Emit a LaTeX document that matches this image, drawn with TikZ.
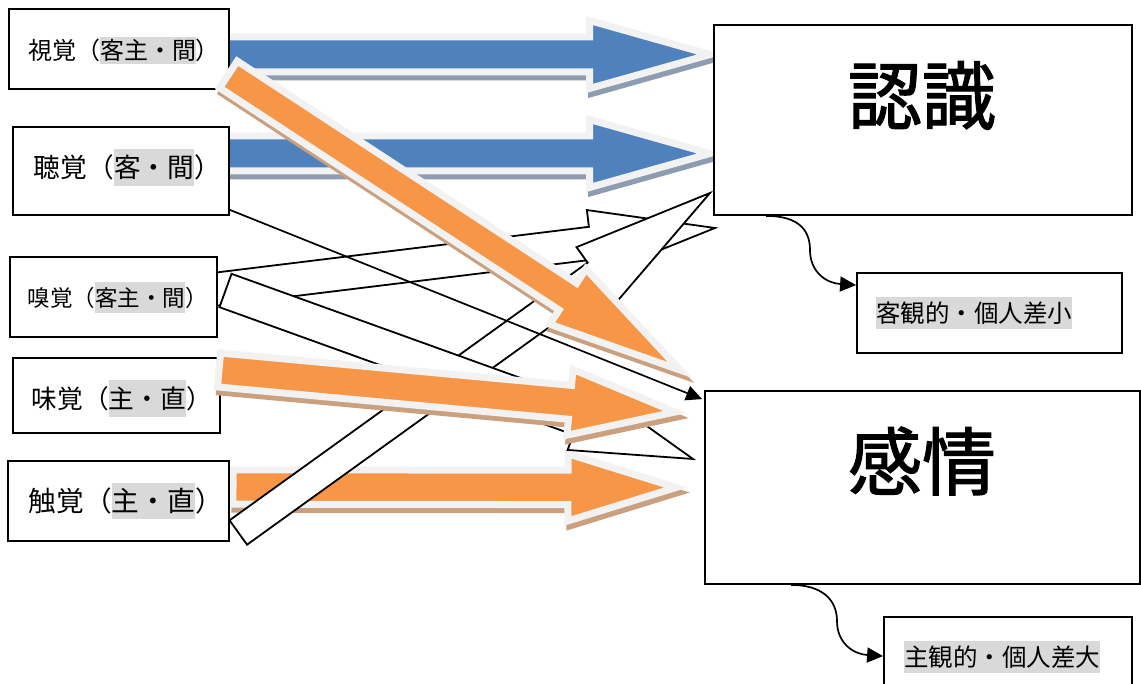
\documentclass[tikz,border=0pt]{standalone}
\usepackage{fontspec}
\setmainfont{Noto Sans CJK JP}
\newfontfamily\bigfont{Noto Sans CJK JP}[FakeBold=1.6]
\usetikzlibrary{calc,arrows.meta}
\definecolor{blueF}{HTML}{4F81BD}
\definecolor{orangeF}{HTML}{F79646}
\definecolor{outl}{HTML}{F2F2F2}
\definecolor{blueS}{HTML}{8E9CB1}
\definecolor{orangeS}{HTML}{CBA07F}
\definecolor{hlgray}{HTML}{D9D9D9}
\newcommand\hl[2]{{\setlength{\fboxsep}{0pt}\colorbox{hlgray}{\rule[\dimexpr0.38em-#1pt/2\relax]{0pt}{#1pt}#2}}}
% #1 style, #2 tail, #3 tip, #4 shaft half width, #5 head half width, #6 head length
\newcommand\blockarr[6]{%
  \coordinate (bah) at ($(#3)!#6!(#2)$);
  \path[#1] ($(#2)!#4!90:(#3)$) -- ($(bah)!#4!-90:(#2)$) -- ($(bah)!#5!-90:(#2)$) -- (#3)
     -- ($(bah)!#5!90:(#2)$) -- ($(bah)!#4!90:(#2)$) -- ($(#2)!#4!-90:(#3)$) -- cycle;
}
\newcommand\shadowarr[7]{%
  \begin{scope}[transform canvas={shift={(2pt,-5pt)}}]
    \blockarr{fill=#2,draw=#2,line width=7pt,line join=miter}{#3}{#4}{#5}{#6}{#7}
  \end{scope}
  \blockarr{fill=#1,draw=outl,line width=7pt,line join=miter}{#3}{#4}{#5}{#6}{#7}
}
\tikzset{
  box/.style={draw=black, line width=1.8pt, fill=white, inner sep=0pt},
  wArr/.style={fill=white, draw=black, line width=1.8pt, line join=miter},
  conn/.style={draw=black, line width=1.7pt, -{Triangle[length=16pt,width=15pt]}},
  lab/.style={inner sep=0pt},
}
\begin{document}
\begin{tikzpicture}[x=1pt,y=-1pt]
\useasboundingbox (0,0) rectangle (1141,684);

% end points of the block arrows
\coordinate (b1s) at (222,54.5);  \coordinate (b1e) at (710,54.5);
\coordinate (b2s) at (222,153.5); \coordinate (b2e) at (710,153.5);
\coordinate (odS) at (228.5,74.5); \coordinate (odE) at (680,370);
\coordinate (otS) at (219,370);   \coordinate (otE) at (675,412);
\coordinate (ouS) at (233,487);   \coordinate (ouE) at (676,487.5);
\coordinate (w1S) at (225.5,290.5); \coordinate (w1E) at (693,459);
\coordinate (w2S) at (238.3,532.5); \coordinate (w2E) at (710,193);
\coordinate (w3S) at (205,290.5);   \coordinate (w3E) at (715,228);

% blue arrows
\shadowarr{blueF}{blueS}{b1s}{b1e}{17.5pt}{34pt}{120.5pt}
\shadowarr{blueF}{blueS}{b2s}{b2e}{17.5pt}{34pt}{120.5pt}
% orange arrow from touch
\shadowarr{orangeF}{orangeS}{ouS}{ouE}{17.2pt}{33.5pt}{108pt}
% white arrows
\blockarr{wArr}{w3S}{w3E}{16.5pt}{33.4pt}{125pt}
\blockarr{wArr}{w2S}{w2E}{15pt}{34pt}{140pt}
\blockarr{wArr}{w1S}{w1E}{17.75pt}{34pt}{121pt}

% boxes
\node[box, minimum width=220pt, minimum height=80pt] (sight) at (119,49) {};
\node[box, minimum width=216pt, minimum height=88pt] (hear) at (121,171) {};
\node[box, minimum width=207pt, minimum height=80pt] (smell) at (113.5,297) {};
\node[box, minimum width=207pt, minimum height=75pt] (taste) at (116.5,395.5) {};
\node[box, minimum width=221pt, minimum height=80pt] (touch) at (118.5,501) {};
\node[box, minimum width=418pt, minimum height=190pt] (cog) at (923,120) {};
\node[box, minimum width=435pt, minimum height=193pt] (emo) at (922.5,487.5) {};
\node[box, minimum width=265pt, minimum height=80pt] (obj) at (989.5,313) {};
\node[box, minimum width=248pt, minimum height=90pt] (subj) at (1008,662) {};

% thin connector hearing -> emotion
\draw[conn] ([yshift=6pt]hear.south east) -- ([xshift=-2pt,yshift=-9pt]emo.north west);

% orange arrows on top
\shadowarr{orangeF}{orangeS}{otS}{otE}{17pt}{33pt}{105.5pt}
\shadowarr{orangeF}{orangeS}{odS}{odE}{16pt}{33pt}{134pt}

% curved connectors
\coordinate (c1m) at (810,250);
\coordinate (c2m) at (837,621);
\draw[conn] ([xshift=53pt]cog.south west) .. controls +(30,0) and +(0,-22) .. (c1m)
   .. controls +(0,22) and +(-30,-2) .. ([yshift=-13pt]obj.north west);
\draw[conn] ([xshift=87pt]emo.south west) .. controls +(30,0) and +(0,-22) .. (c2m)
   .. controls +(0,22) and +(-30,-2) .. ([yshift=-40pt]subj.north west);

% labels
\node[lab, font=\fontsize{24}{27}\selectfont] (sightT) at (124,50.5) {視覚（\hl{27}{客主・間}）};
\node[lab, font=\fontsize{26.7}{30}\selectfont] (hearT) at (127.4,167.5) {聴覚（\hl{37}{客・間}）};
\node[lab, font=\fontsize{22.5}{26}\selectfont] (smellT) at (117.5,297.5) {嗅覚（\hl{31}{客主・間}）};
\node[lab, font=\fontsize{25.7}{30}\selectfont] (tasteT) at (121.8,398.5) {味覚（\hl{37}{主・直}）};
\node[lab, font=\fontsize{27.7}{31}\selectfont] (touchT) at (125.8,501) {触覚（\hl{36}{主・直}）};
\node[lab, font=\fontsize{24.5}{28}\selectfont] (objT) at (974,313) {\hl{32}{客観的・個人差小}};
\node[lab, font=\fontsize{24.5}{28}\selectfont] (subjT) at (1002,657) {\hl{32}{主観的・個人差大}};
\node[lab, font=\bigfont\fontsize{74}{80}\selectfont] (cogT) at (922,95.5) {認識};
\node[lab, font=\bigfont\fontsize{74}{80}\selectfont] (emoT) at (922,461) {感情};
\end{tikzpicture}
\end{document}
